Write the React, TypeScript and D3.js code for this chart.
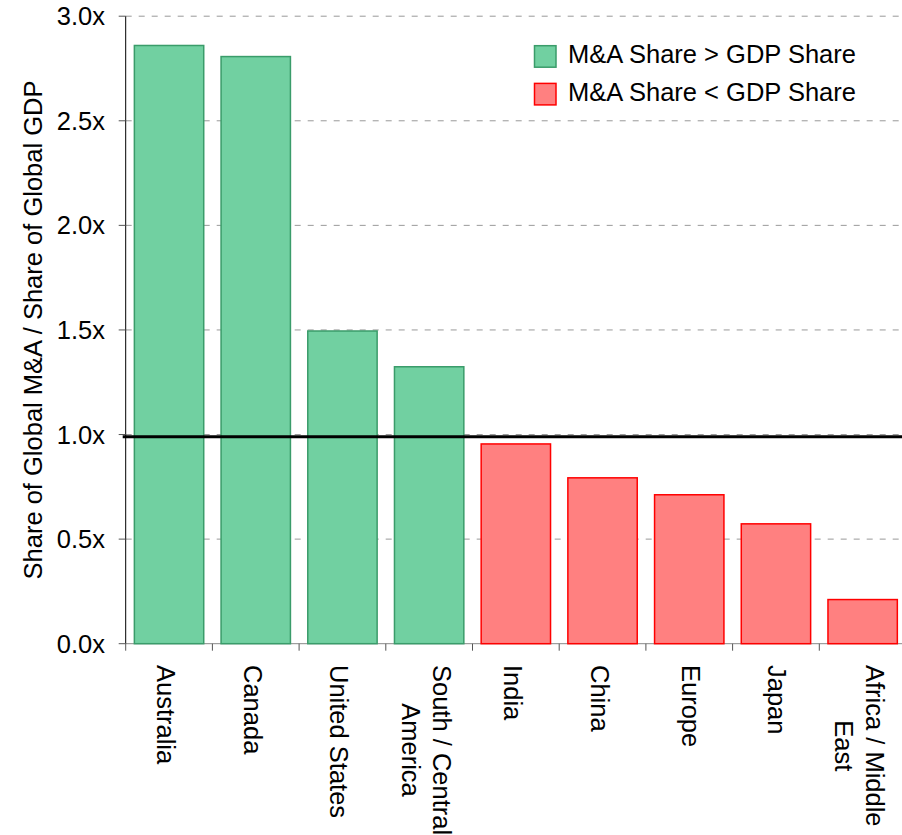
import React from 'react';
import * as d3 from 'd3';

const categories = [
  'Australia',
  'Canada',
  'United States',
  'South / Central\nAmerica',
  'India',
  'China',
  'Europe',
  'Japan',
  'Africa / Middle\nEast',
];
const ratios = [2.86, 2.807, 1.495, 1.324, 0.955, 0.793, 0.712, 0.573, 0.211];
const yTicks = [0, 0.5, 1, 1.5, 2, 2.5, 3];
const yTickLabels = ['0.0x', '0.5x', '1.0x', '1.5x', '2.0x', '2.5x', '3.0x'];
const referenceValue = 0.99;
const legendLabels = ['M&A Share > GDP Share', 'M&A Share < GDP Share'];
const yAxisTitle = 'Share of Global M&A / Share of Global GDP';

const W = 902;
const H = 835;
const FONT = '"Liberation Sans", Arial, Helvetica, sans-serif';
const FS = 25.5;
const GREEN_FILL = '#71d0a1';
const GREEN_STROKE = '#3a9c6a';
const RED_FILL = '#ff8080';
const RED_STROKE = '#ff0000';

let measureCtx: CanvasRenderingContext2D | null = null;
function textWidth(s: string): number {
  if (!measureCtx) {
    const c = document.createElement('canvas');
    measureCtx = c.getContext('2d');
  }
  if (!measureCtx) return s.length * FS * 0.55;
  measureCtx.font = `${FS}px ${FONT}`;
  return measureCtx.measureText(s).width;
}

export default function App() {
  const x = d3
    .scaleBand<string>()
    .domain(categories)
    .range([125.7, 906])
    .paddingInner(0.2)
    .paddingOuter(0.1);
  const y = d3.scaleLinear().domain([0, 3]).range([643.7, 16.2]);
  const step = x.step();
  const left = 125.7;
  const bottom = y(0);

  const boundaries = categories.map((c) => (x(c) as number) - step * 0.1);
  boundaries.push(x.range()[1]);

  const lineGap = 31.3;
  const capH = 20;

  return (
    <svg
      width={W}
      height={H}
      style={{ position: 'absolute', left: 0, top: 0, background: '#fff' }}
      fontFamily={FONT}
    >
      {/* grid lines */}
      {yTicks
        .filter((t) => t > 0)
        .map((t) => (
          <line
            key={'g' + t}
            x1={left}
            x2={W}
            y1={y(t)}
            y2={y(t)}
            stroke="#999"
            strokeWidth={1}
            strokeDasharray="6,7"
          />
        ))}
      {/* bottom line */}
      <line x1={left} x2={W} y1={bottom} y2={bottom} stroke="#888" strokeWidth={1} />

      {/* bars */}
      {categories.map((c, i) => {
        const v = ratios[i];
        const up = v > 1;
        return (
          <rect
            key={c}
            x={x(c)}
            y={y(v)}
            width={x.bandwidth()}
            height={bottom - y(v)}
            fill={up ? GREEN_FILL : RED_FILL}
            stroke={up ? GREEN_STROKE : RED_STROKE}
            strokeWidth={1.5}
          />
        );
      })}

      {/* reference line */}
      <line
        x1={left - 3}
        x2={W}
        y1={y(referenceValue)}
        y2={y(referenceValue)}
        stroke="#000"
        strokeWidth={3}
      />

      {/* left spine */}
      <line x1={left} x2={left} y1={y(3)} y2={bottom} stroke="#000" strokeWidth={1} />

      {/* y ticks */}
      {yTicks.map((t, i) => (
        <g key={'yt' + t}>
          <line x1={left - 7} x2={left} y1={y(t)} y2={y(t)} stroke="#555" strokeWidth={1} />
          <text
            x={105}
            y={y(t) + 9}
            textAnchor="end"
            fontSize={FS}
            fill="#000"
          >
            {yTickLabels[i]}
          </text>
        </g>
      ))}

      {/* x ticks at boundaries */}
      {boundaries.map((b, i) => (
        <line key={'xt' + i} x1={b} x2={b} y1={bottom} y2={bottom + 7} stroke="#555" strokeWidth={1} />
      ))}

      {/* x labels */}
      {categories.map((c) => {
        const lines = c.split('\n');
        const n = lines.length;
        const center = (x(c) as number) + x.bandwidth() / 2;
        const lastHasDesc = /[gjpqy]/.test(lines[n - 1]);
        const desc = lastHasDesc ? 9 : 0;
        const b1 = center - 2 + ((n - 1) * lineGap + desc - capH) / 2;
        const widths = lines.map((l) => textWidth(l));
        const maxW = Math.max(...widths);
        const top = 665;
        return (
          <g key={'xl' + c}>
            {lines.map((l, j) => {
              const bx = b1 - j * lineGap;
              const cy = n === 1 ? top : top + maxW / 2;
              return (
                <text
                  key={j}
                  transform={`translate(${bx},${cy}) rotate(90)`}
                  textAnchor={n === 1 ? 'start' : 'middle'}
                  fontSize={FS}
                  fill="#000"
                >
                  {l}
                </text>
              );
            })}
          </g>
        );
      })}

      {/* y axis title */}
      <text
        transform={`translate(42,330) rotate(-90)`}
        textAnchor="middle"
        fontSize={FS}
        fill="#000"
      >
        {yAxisTitle}
      </text>

      {/* legend */}
      {legendLabels.map((l, i) => {
        const sy = 45.7 + i * 37.7;
        return (
          <g key={'lg' + i}>
            <rect
              x={534.5}
              y={sy}
              width={21.5}
              height={21.5}
              fill={i === 0 ? GREEN_FILL : RED_FILL}
              stroke={i === 0 ? GREEN_STROKE : RED_STROKE}
              strokeWidth={1.5}
            />
            <text x={568} y={sy + 17.5} fontSize={FS} fill="#000">
              {l}
            </text>
          </g>
        );
      })}
    </svg>
  );
}
